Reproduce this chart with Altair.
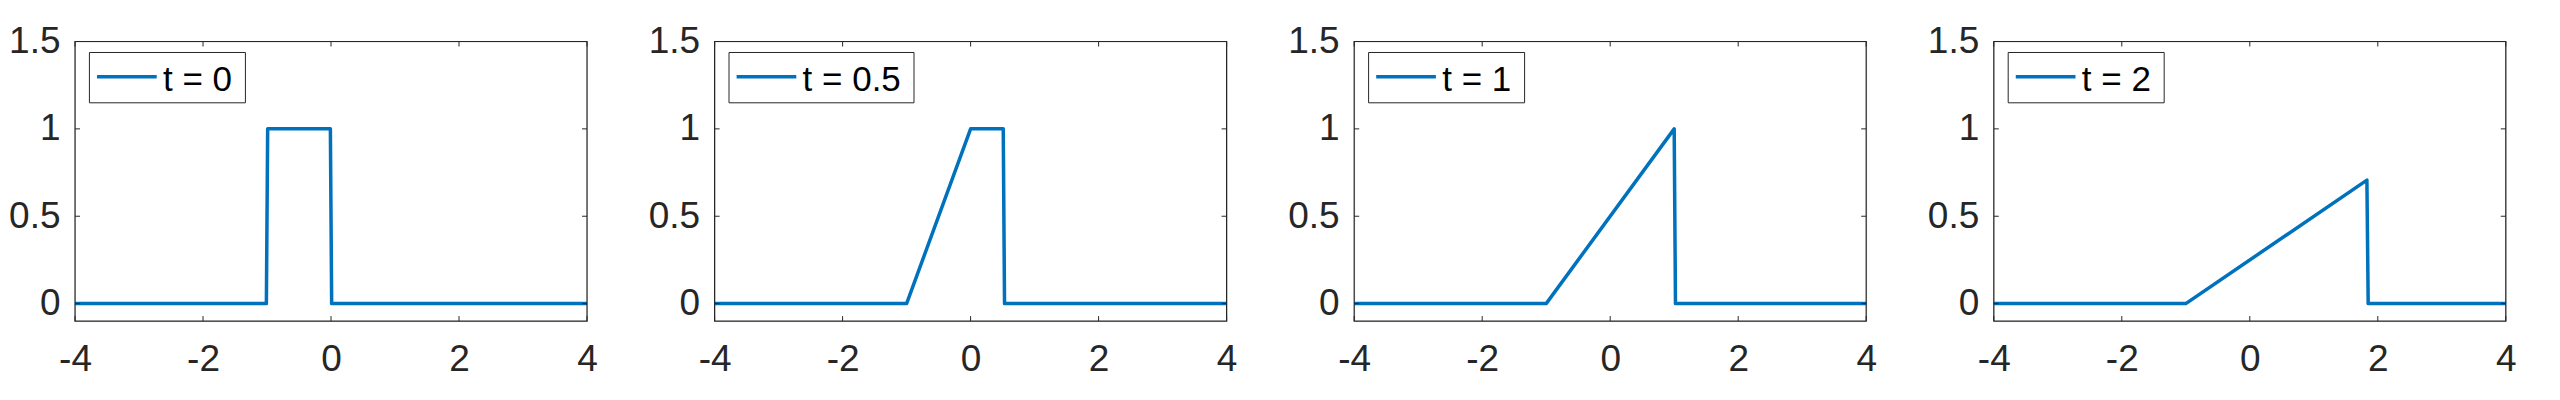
import altair as alt
import pandas as pd

# ---- data ----
labels = ["t = 0", "t = 0.5", "t = 1", "t = 2"]
x_t0 = [-4, -1.01, -0.99, -0.01, 0.01, 4]
y_t0 = [0, 0, 1, 1, 0, 0]
x_t05 = [-4, -1.0, 0.0, 0.51, 0.53, 4]
y_t05 = [0, 0, 1, 1, 0, 0]
x_t1 = [-4, -1.0, 1.0, 1.02, 4]
y_t1 = [0, 0, 1, 0, 0]
x_t2 = [-4, -1.0, 1.83, 1.85, 4]
y_t2 = [0, 0, 0.707, 0, 0]
x_ticks = [-4, -2, 0, 2, 4]
y_ticks = [0, 0.5, 1, 1.5]

series = [(x_t0, y_t0), (x_t05, y_t05), (x_t1, y_t1), (x_t2, y_t2)]
legend_w = {"t = 0": 156, "t = 0.5": 185, "t = 1": 156, "t = 2": 156}

W, H = 512, 279.6
BLUE = "#0072BD"
DARK = "#262626"
FONT = "Liberation Sans"

xscale = alt.Scale(domain=[-4, 4], nice=False, zero=False)
yscale = alt.Scale(domain=[-0.1, 1.5], nice=False, zero=False)


def panel(xs, ys, label):
    df = pd.DataFrame({"x": xs, "y": ys, "i": list(range(len(xs)))})
    line = alt.Chart(df).mark_line(color=BLUE, strokeWidth=3.5, strokeJoin="round").encode(
        x=alt.X("x:Q", scale=xscale,
                axis=alt.Axis(values=x_ticks, title=None, domain=False, ticks=False, grid=False,
                              labelFontSize=37, labelFont=FONT, labelColor=DARK, labelPadding=20,
                              labelExpr="toString(datum.value)", labelFlush=False)),
        y=alt.Y("y:Q", scale=yscale,
                axis=alt.Axis(values=y_ticks, title=None, domain=False, ticks=False, grid=False,
                              labelFontSize=37, labelFont=FONT, labelColor=DARK, labelPadding=15,
                              labelExpr="toString(datum.value)", labelFlush=False,
                              minExtent=66, maxExtent=66)),
        order="i:Q",
    )
    xt = pd.DataFrame({"v": x_ticks})
    yt = pd.DataFrame({"v": y_ticks})
    xb = alt.Chart(xt).mark_rule(color=DARK, strokeWidth=1).encode(
        x=alt.X("v:Q", scale=xscale), y=alt.value(H), y2=alt.value(H - 5))
    xtop = alt.Chart(xt).mark_rule(color=DARK, strokeWidth=1).encode(
        x=alt.X("v:Q", scale=xscale), y=alt.value(0), y2=alt.value(5))
    yl = alt.Chart(yt).mark_rule(color=DARK, strokeWidth=1).encode(
        y=alt.Y("v:Q", scale=yscale), x=alt.value(0), x2=alt.value(5))
    yr = alt.Chart(yt).mark_rule(color=DARK, strokeWidth=1).encode(
        y=alt.Y("v:Q", scale=yscale), x=alt.value(W - 5), x2=alt.value(W))
    ldf = pd.DataFrame({"label": [label]})
    frame = alt.Chart(ldf).mark_rect(fill=None, fillOpacity=0, stroke=DARK, strokeWidth=1.2).encode(
        x=alt.value(0), x2=alt.value(W), y=alt.value(0), y2=alt.value(H))
    box = alt.Chart(ldf).mark_rect(fill="white", stroke=DARK, strokeWidth=1).encode(
        x=alt.value(14.4), x2=alt.value(14.4 + legend_w[label]),
        y=alt.value(11), y2=alt.value(61.3))
    sym = alt.Chart(ldf).mark_rule(color=BLUE, strokeWidth=3.5).encode(
        x=alt.value(22), x2=alt.value(81.7), y=alt.value(35.3))
    txt = alt.Chart(ldf).mark_text(align="left", baseline="alphabetic", fontSize=35,
                                   font=FONT, color="black").encode(
        x=alt.value(88), y=alt.value(49.3), text="label:N")
    return alt.layer(line, xb, xtop, yl, yr, frame, box, sym, txt).properties(width=W, height=H)


panels = [panel(xs, ys, lab) for (xs, ys), lab in zip(series, labels)]
chart = alt.hconcat(*panels, spacing=49.6).properties(
    padding={"left": 0, "top": 13.5, "right": 5, "bottom": 5}
).configure_view(strokeWidth=0).configure(background="white")

chart.save("out.html", embed_options={"renderer": "svg", "actions": False})
